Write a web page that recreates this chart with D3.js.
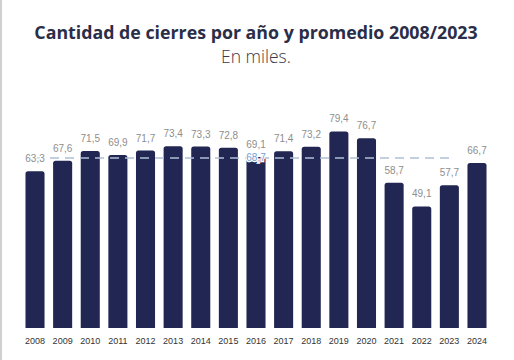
<!DOCTYPE html>
<html><head><meta charset="utf-8">
<script src="https://cdn.jsdelivr.net/npm/d3@7"></script>
<style>
html,body{margin:0;padding:0;background:#fff;}
svg{display:block;}
</style></head>
<body>
<svg id="chart" width="514" height="360"></svg>
<script>
const years = ["2008","2009","2010","2011","2012","2013","2014","2015","2016","2017","2018","2019","2020","2021","2022","2023","2024"];
const values = [63.3,67.6,71.5,69.9,71.7,73.4,73.3,72.8,69.1,71.4,73.2,79.4,76.7,58.7,49.1,57.7,66.7];
const average = 68.7;
const avgFrom = "2008", avgTo = "2023", avgLabelAt = "2016";
const title = "Cantidad de cierres por año y promedio 2008/2023";
const subtitle = "En miles.";

const fmt = v => d3.format(".1f")(v).replace(".", ",");
const svg = d3.select("#chart");
svg.append("rect").attr("x",0).attr("y",0).attr("width",2).attr("height",360).attr("fill","#d0d0d0");

const x = d3.scaleBand().domain(years).range([21.2, 490.8]).paddingInner(0.31).paddingOuter(0.155);
const y = d3.scaleLinear().domain([0, 80]).range([328, 130]);

svg.append("text").attr("x",256).attr("y",39).attr("text-anchor","middle")
  .attr("font-family","'Open Sans', sans-serif").attr("font-weight",700).attr("font-size",17.8)
  .attr("fill","#2b2e48").text(title);
svg.append("text").attr("x",256).attr("y",63).attr("text-anchor","middle")
  .attr("font-family","'Open Sans', sans-serif").attr("font-weight",300).attr("font-size",17.5)
  .attr("fill","#3a3a48").text(subtitle);

const r = 2.5;
svg.append("g").selectAll("path").data(years).join("path")
  .attr("fill","#212752")
  .attr("d",(d,i)=>{
    const x0 = x(d), w = x.bandwidth(), y0 = y(values[i]), y1 = y(0);
    return `M${x0},${y1}V${y0+r}Q${x0},${y0} ${x0+r},${y0}H${x0+w-r}Q${x0+w},${y0} ${x0+w},${y0+r}V${y1}Z`;
  });

// average line
svg.append("line")
  .attr("x1", x(avgFrom)+x.bandwidth()/2).attr("x2", x(avgTo)+x.bandwidth()/2)
  .attr("y1", y(average)).attr("y2", y(average))
  .attr("stroke","#aec0d8").attr("stroke-width",1.5).attr("stroke-dasharray","9,6");

// value labels with white halo
svg.append("g").selectAll("text").data(years).join("text")
  .attr("x", d=>x(d)+x.bandwidth()/2)
  .attr("y",(d,i)=>y(values[i])-9)
  .attr("text-anchor","middle")
  .attr("font-family","'Liberation Sans', Arial, sans-serif").attr("font-size",10)
  .attr("fill","#8e8e8e")
  .attr("stroke","#fff").attr("stroke-width",3).attr("paint-order","stroke")
  .text((d,i)=>fmt(values[i]));

svg.append("text")
  .attr("x", x(avgLabelAt)+x.bandwidth()/2).attr("y", y(average)+3.5)
  .attr("text-anchor","middle")
  .attr("font-family","'Liberation Sans', Arial, sans-serif").attr("font-size",10)
  .attr("fill","#6f9fd6").attr("stroke","#fff").attr("stroke-width",2.5).attr("paint-order","stroke")
  .text(fmt(average));

// x axis
const xa = svg.append("g").attr("transform","translate(0,328)")
  .call(d3.axisBottom(x).tickSize(0).tickPadding(10));
xa.select(".domain").remove();
xa.selectAll("text").attr("font-family","'Liberation Sans', Arial, sans-serif").attr("font-size",9).attr("fill","#333");
</script>
</body></html>
